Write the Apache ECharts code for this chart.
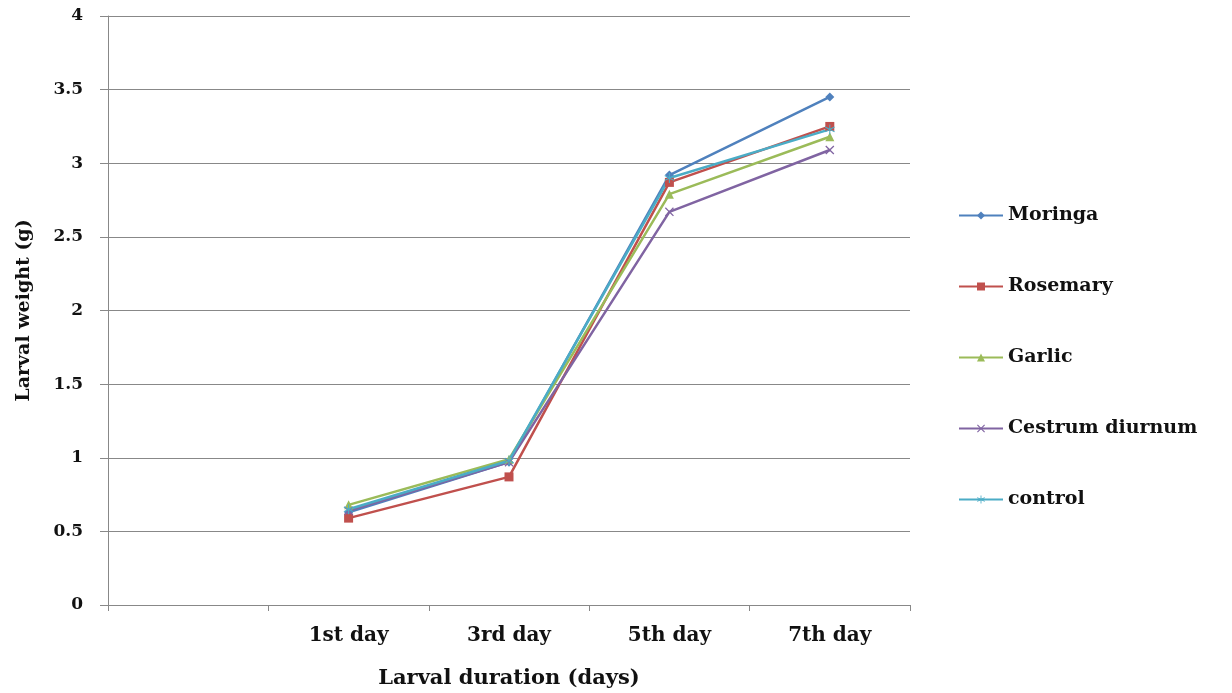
<!DOCTYPE html>
<html><head><meta charset="utf-8">
<script src="https://cdn.jsdelivr.net/npm/echarts@6/dist/echarts.min.js"></script>
<style>html,body{margin:0;padding:0;background:#fff}#c{width:1232px;height:693px}</style>
</head><body><div id="c"></div>
<script>
const categories = ['', '1st day', '3rd day', '5th day', '7th day'];
const seriesNames = ['Moringa', 'Rosemary', 'Garlic', 'Cestrum diurnum', 'control'];
const moringa = ['-', 0.63, 0.97, 2.92, 3.45];
const rosemary = ['-', 0.59, 0.87, 2.87, 3.25];
const garlic = ['-', 0.68, 0.99, 2.79, 3.18];
const cestrum = ['-', 0.64, 0.97, 2.67, 3.09];
const control = ['-', 0.65, 0.98, 2.90, 3.23];
const yTicks = [0, 0.5, 1, 1.5, 2, 2.5, 3, 3.5, 4];

const colors = ['#4F81BD', '#C0504D', '#9BBB59', '#8064A2', '#4BACC6'];
const symbols = ['diamond', 'rect', 'triangle',
  'path://M0,1L1,0L5,4L9,0L10,1L6,5L10,9L9,10L5,6L1,10L0,9L4,5Z',
  'path://M4.5,0H5.5V4.1L9.2,2.2L9.7,3.1L6,5L9.7,6.9L9.2,7.8L5.5,5.9V10H4.5V5.9L0.8,7.8L0.3,6.9L4,5L0.3,3.1L0.8,2.2L4.5,4.1Z'];
const sizes = [9, 9, 9, 9, 10];
const data = [moringa, rosemary, garlic, cestrum, control];
const font = 'DejaVu Serif';

const chart = echarts.init(document.getElementById('c'));
chart.setOption({
  animation: false,
  color: colors,
  grid: { left: 108, right: 322, top: 16, bottom: 88, containLabel: false, outerBoundsMode: 'none' },
  legend: {
    orient: 'vertical', left: 958, top: 206, padding: 0, itemGap: 52, itemWidth: 44, itemHeight: 10,
    data: seriesNames,
    textStyle: { fontFamily: font, fontWeight: 'bold', fontSize: 19, color: '#111' }
  },
  xAxis: {
    type: 'category', data: categories, boundaryGap: true,
    name: 'Larval duration (days)', nameLocation: 'middle', nameGap: 63,
    nameTextStyle: { fontFamily: font, fontWeight: 'bold', fontSize: 21, color: '#111' },
    axisLine: { lineStyle: { color: '#888', width: 1 } },
    axisTick: { show: true, length: 6, lineStyle: { color: '#888' } },
    axisLabel: { fontFamily: font, fontWeight: 'bold', fontSize: 20, color: '#111', margin: 21 }
  },
  yAxis: {
    type: 'value', min: 0, max: 4, interval: 0.5,
    name: 'Larval weight (g)', nameLocation: 'middle', nameGap: 74,
    nameTextStyle: { fontFamily: font, fontWeight: 'bold', fontSize: 19, color: '#111' },
    axisLine: { show: true, lineStyle: { color: '#888', width: 1 } },
    axisTick: { show: true, length: 8, lineStyle: { color: '#888' } },
    splitLine: { lineStyle: { color: '#888', width: 1 } },
    axisLabel: { fontFamily: font, fontWeight: 'bold', fontSize: 17, color: '#111', margin: 25,
      formatter: v => yTicks.includes(v) ? String(v) : '' }
  },
  series: seriesNames.map((n, i) => ({
    name: n, type: 'line', data: data[i],
    symbol: symbols[i], symbolSize: sizes[i], showAllSymbol: true,
    lineStyle: { width: 2.5, color: colors[i] },
    itemStyle: { color: colors[i], borderColor: colors[i], borderWidth: 0 },
    connectNulls: false
  }))
});
</script></body></html>
